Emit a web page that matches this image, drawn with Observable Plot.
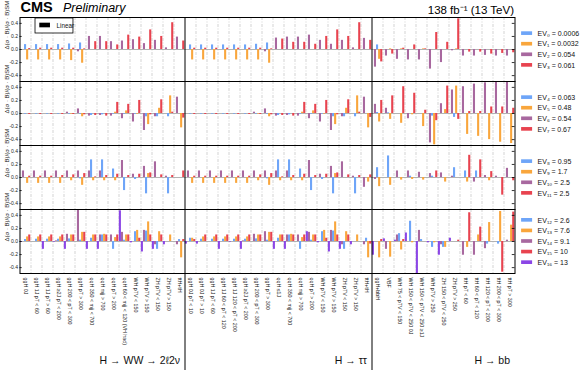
<!DOCTYPE html>
<html><head><meta charset="utf-8">
<script src="https://cdn.jsdelivr.net/npm/d3@7"></script>
<script src="https://cdn.jsdelivr.net/npm/@observablehq/plot@0.6"></script>
<style>body{margin:0;background:#fff} #chart svg{display:block}</style>
</head><body><div id="chart"></div>
<script>
// ---------- categories ----------
const hwwCats = ["ggH 0J","ggH 1J pT < 60","ggH 1J pT > 60","ggH ≥2J pT < 200","ggH 200 < pT < 300","ggH pT > 300","qqH 350 < mjj < 700","qqH mjj > 700","qqH pT > 200","qqH 60 < mjj < 120 (VH had)","WH pTV < 150","WH pTV > 150","ZH pTV < 150","ZH pTV > 150","ttH+tH"];
const ttCats = ["ggH 0J pT < 10","ggH 0J pT > 10","ggH 1J pT < 60","ggH 1J 60 < pT < 120","ggH 1J 120 < pT < 200","ggH ≥2J pT < 200","ggH 200 < pT < 300","ggH pT > 300","qqH ≤1J","qqH 350 < mjj < 700","qqH mjj > 700","qqH pT > 200","WH pTV < 150","WH pTV > 150","ZH pTV < 150","ZH pTV > 150","ttH+tH"];
const bbCats = ["ggH+bbH","VBF","WH 75 < pTV < 150","WH 150 < pTV < 250 0J","WH 150 < pTV < 250 ≥1J","WH pTV > 250","ZH 150 < pTV < 250","ZH pTV > 250","ttH pT < 60","ttH 60 < pT < 120","ttH 120 < pT < 200","ttH 200 < pT < 300","ttH pT > 300"];
const sectionNames = ["H → WW → 2ℓ2ν","H → ττ","H → bb"];
const sectionSizes = [hwwCats.length, ttCats.length, bbCats.length];
const categories = [...hwwCats, ...ttCats, ...bbCats];

// ---------- eigenvector values (HWW | tautau | bb) ----------
const ev0 = [0.075,0.075,0.075,0.075,0.085,0.1,0,0,0,0,0,0,0,0,0, 0.07,0.07,0.07,0.07,0.07,0.07,0.08,0.1,0,0,0,0,0,0,0,0,0, 0.07,0,0,0,0,0,0,0,0,0,0,0,0];
const ev1 = [-0.16,-0.16,-0.16,-0.16,-0.17,-0.21,0,0,0,0,0,0,0,0,0, -0.16,-0.16,-0.16,-0.16,-0.16,-0.16,-0.16,-0.21,0,0,0,0,0,0,0,0,0, -0.15,0.01,0.01,0,0.01,0,0,0.01,0,0,0,0,0];
const ev2 = [0,0,0,0,0,-0.035,0.2,0.2,0.12,0.13,0.15,0.09,0.14,0.025,0.19, 0,0,0,0,0,0,0,-0.035,0.175,0.19,0.19,0.22,0.14,0.08,0.14,0.025,0.17, -0.27,-0.1,-0.15,-0.16,-0.16,-0.3,-0.2,-0.02,-0.1,-0.1,-0.09,-0.1,-0.1];
const ev3 = [0.015,0.02,0.02,0.02,0.02,0.01,0.12,0.12,0.07,0.22,0.19,0.3,0.2,0.41,0.13, 0.02,0.02,0.02,0.02,0.02,0.02,0.02,0.01,0.16,0.11,0.11,0.08,0.2,0.3,0.2,0.41,0.14, -0.19,-0.07,0.02,0.07,0.01,0.26,0.11,0.47,-0.04,-0.04,-0.07,-0.06,-0.05];
const ev4 = [-0.01,-0.01,-0.01,-0.01,-0.01,-0.01,-0.03,-0.02,-0.01,-0.01,-0.01,-0.05,-0.05,-0.05,0, -0.01,-0.01,-0.01,-0.01,-0.01,-0.01,-0.01,-0.01,-0.03,-0.02,-0.01,-0.01,-0.01,-0.05,-0.05,-0.05,0, 0.015,0.01,0,0,0,-0.04,0,-0.06,0,0,0,0,0];
const ev5 = [0,0,0,0,-0.01,-0.05,0,0,0.02,0.04,-0.01,-0.17,0.08,0.27,-0.22, 0,0,0,0,0,0,-0.01,-0.05,0,0,0.02,0.04,-0.01,-0.17,0.08,0.27,-0.22, -0.13,-0.09,-0.15,-0.02,-0.2,-0.48,0.06,0.42,-0.32,-0.35,-0.4,-0.44,-0.46];
const ev6 = [0,0,0,0,0.02,0.07,-0.04,-0.03,-0.04,-0.08,-0.13,-0.26,-0.05,0,0.25, 0,0,0,0,0,0,0.02,0.07,-0.04,-0.03,-0.04,-0.08,-0.13,-0.26,-0.05,0,0.25, 0.14,0.08,0,-0.08,0,-0.45,0.15,0.36,0.41,0.45,0.47,0.48,0.48];
const ev7 = [-0.015,-0.015,-0.015,-0.015,-0.015,-0.02,-0.03,-0.04,0.17,0.14,0.2,-0.02,0.21,0.02,-0.07, -0.015,-0.015,-0.015,-0.015,-0.015,-0.015,-0.015,-0.02,-0.03,-0.04,0.17,0.14,0.2,-0.02,0.21,0.02,-0.06, 0.2,0.27,0.41,0.31,0.05,-0.11,0.42,-0.09,0.03,0.03,0.1,0.1,0.08];
const ev8 = [0,0,0,0,0,-0.02,0.27,0.27,0.13,-0.2,-0.03,-0.25,0,-0.25,0, 0,0,0,0,0,0,0,-0.02,0.27,0.27,0.13,-0.2,-0.03,-0.25,0,-0.25,0, 0.15,0.33,0,0.02,0,0.02,0,0.15,0.1,0.1,0,0,0];
const ev9 = [-0.09,-0.09,-0.09,-0.09,-0.05,-0.12,-0.05,-0.05,-0.05,0,0,0.06,0,0,0, -0.09,-0.09,-0.09,-0.09,-0.09,-0.09,-0.05,-0.12,-0.05,-0.05,-0.05,0,0,0.06,0,0,-0.07, -0.14,-0.12,-0.04,-0.03,-0.04,0,-0.07,0,-0.07,0,-0.05,0,0];
const ev10 = [0.1,0.1,0.1,0.1,0.1,0.1,0.1,0.1,0,0.26,0.05,0.17,0.24,0.02,0, 0.1,0.1,0.1,0.1,0.1,0.1,0.1,0.1,0.1,0.1,0,0.26,0.05,0.17,0.24,0.02,-0.15, -0.03,0,0.1,0.1,0.08,0.06,0.07,0.02,0,-0.07,0.03,0.02,0.14];
const ev11 = [0.02,0.02,0.02,0.03,0.04,0.06,0.01,0.03,0.05,0.03,0.05,0.07,0.04,0.03,0.1, 0.02,0.02,0.02,0.02,0.02,0.02,0.04,0.06,0.01,0.03,0.05,0.03,0.05,0.07,0.04,0.03,0.04, 0,0,0,0,0,0.1,0,0,0.34,0.27,0.09,-0.27,-0.05];
const ev12 = [0.03,0.035,0.035,0.035,0.04,0.02,0.05,0.1,-0.12,0.02,0.15,0.16,-0.12,0,0.03, 0.05,0.035,0.035,0.035,0.035,0.035,0.04,0.02,0.05,0.1,-0.12,0.02,0.15,0.16,-0.12,0,0.05, 0,0,0.12,0.31,0.03,-0.09,-0.09,0,0,0,-0.04,-0.04,0];
const ev13 = [0.07,0.07,0.07,0.07,0.1,0.14,0.1,0.11,0.06,0.1,0.17,0.3,0.15,0.1,-0.25, 0.05,0.07,0.07,0.07,0.07,0.07,0.1,0.14,0.1,0.11,0.06,0.1,0.17,0.3,0.15,0.1,-0.25, -0.25,-0.24,-0.13,-0.02,0,-0.02,-0.09,0,-0.09,0.1,0.29,0.46,0.25];
const ev14 = [0,0,0,0.01,0.11,0.48,0,0.1,0.1,0.14,0,0.17,-0.05,0,-0.05, 0,0,0,0,0,0.01,0.11,0.15,0,0.1,0.1,0.14,0,0.17,-0.05,0,-0.05, 0,-0.12,0.1,0,0.17,0,-0.05,0,-0.21,-0.21,-0.11,0,0.02];
const ev15 = [0.1,0.1,0.1,0.1,0.1,0.14,0.1,0.1,0.1,0.1,0.05,0.1,0.1,0,0.03, 0.03,0.1,0.1,0.1,0.1,0.1,0.1,0.14,0.1,0.1,0.1,0.1,0.05,0.1,0.1,0,-0.04, 0.03,0,0.03,0,0,0,0,0.02,0.44,0.22,0,-0.47,0.45];
const ev16 = [-0.01,0,-0.12,-0.01,-0.12,0,-0.12,-0.12,0,0.47,-0.02,-0.16,-0.12,-0.05,0, -0.04,-0.04,0,-0.12,-0.01,-0.12,0,0,-0.12,-0.12,0,0.15,-0.02,-0.16,-0.12,-0.05,0, -0.21,0.04,0.02,0.13,-0.49,-0.02,-0.21,0.05,0,0,0,0,0];
const eigenvalues = ["0.0006","0.0032","0.054","0.061","0.063","0.48","0.54","0.67","0.95","1.7","2.5","2.5","2.6","7.6","9.1","10","13"];
const yTicks = [-0.4,-0.2,0,0.2,0.4];

// ---------- layout / style ----------
const evValues = [ev0,ev1,ev2,ev3,ev4,ev5,ev6,ev7,ev8,ev9,ev10,ev11,ev12,ev13,ev14,ev15,ev16];
const palette = ["#6ea5f8","#f9a63c","#a8689f","#e8434f","#8b45e6"];
const rowsEV = [[0,1,2,3],[4,5,6,7],[8,9,10,11],[12,13,14,15,16]];
const slotOrder = [[2,0,1,3],[6,4,5,7],[10,8,9,11],[16,14,12,13,15]];
const bw = 0.19;
const sub = n => String(n).split("").map(c => "₀₁₂₃₄₅₆₇₈₉"[+c]).join("");
const N = categories.length;
const ylo = -0.49, yhi = 0.49;

const bars = [];
const legendRows = [];
rowsEV.forEach((evs, r) => {
  const n = evs.length;
  evs.forEach((e, k) => {
    const slot = slotOrder[r].indexOf(e);
    evValues[e].forEach((v, i) => {
      const x1 = i + 0.98 - (n - slot) * bw;
      bars.push({row: r, x1, x2: x1 + bw, v, color: palette[k]});
    });
    const yc = ((n - 1) / 2 - k) * 0.162;
    legendRows.push({row: r, y: yc, color: palette[k], label: `EV${sub(e)} = ${eigenvalues[e]}`});
  });
});

const bounds = d3.cumsum(sectionSizes);
const dividers = Array.from(bounds).slice(0, -1);
const grid = d3.range(1, N).filter(i => !dividers.includes(i));
const catLabels = categories.map((c, i) => ({row: 3, x: i + 0.5, c}));
const secLabels = sectionNames.map((s, j) => ({row: 3, x: bounds[j], s}));
const divExt = dividers.map(x => ({row: 3, x}));
const topRow = [{row: 0}];

const font = "'Liberation Sans', Arial, Helvetica, sans-serif";

const chart = Plot.plot({
  width: 580, height: 373,
  marginTop: 17, marginBottom: 100, marginLeft: 19.5, marginRight: 65.5,
  style: {fontFamily: font, background: "#fff"},
  x: {domain: [0, N], axis: null},
  y: {domain: [ylo, yhi], axis: null},
  fy: {domain: [0,1,2,3], padding: 0, axis: null},
  color: {type: "identity"},
  marks: [
    Plot.ruleX(grid, {stroke: "#c8c8c8", strokeWidth: 0.8, strokeDasharray: "3,1.5,1,1.5"}),
    Plot.ruleY([0], {stroke: "#a0a0a0", strokeWidth: 0.8}),
    Plot.rect(bars, {x1: "x1", x2: "x2", y1: 0, y2: "v", fy: "row", fill: "color"}),
    Plot.ruleX(dividers, {stroke: "#000", strokeWidth: 1}),
    Plot.ruleX(divExt, {x: "x", y1: ylo, y2: ylo - 97 / 65.3, fy: "row", stroke: "#000", strokeWidth: 1}),
    Plot.frame({stroke: "#000", strokeWidth: 1}),
    Plot.ruleY(yTicks, {x1: N - 0.25, x2: N, stroke: "#000", strokeWidth: 0.8}),
    Plot.ruleY(yTicks, {x1: 0, x2: 0.2, stroke: "#000", strokeWidth: 0.8}),
    Plot.text(yTicks, {x: 0, y: d => d, text: d => d.toFixed(1), textAnchor: "end", dx: -2, fontSize: 5, fill: "#222"}),
    Plot.text(["Δ(σ · B)/(σ · B)SM"], {frameAnchor: "left", rotate: -90, dx: -12.5, fontSize: 6, fill: "#222"}),
    Plot.text(catLabels, {x: "x", y: ylo, fy: "row", text: "c", rotate: 90, textAnchor: "start", lineAnchor: "middle", dy: 4, fontSize: 5.3, fill: "#222"}),
    Plot.text(secLabels, {x: "x", frameAnchor: "bottom", fy: "row", text: "s", textAnchor: "end", lineAnchor: "bottom", dx: -5, dy: 90.5, fontSize: 10.5, fill: "#111"}),
    Plot.rect(legendRows, {x1: N + 0.6, x2: N + 1.6, y1: d => d.y - 0.028, y2: d => d.y + 0.028, fy: "row", fill: "color"}),
    Plot.text(legendRows, {x: N + 2.05, y: "y", fy: "row", text: "label", textAnchor: "start", fontSize: 7, fill: "#111"}),
    Plot.rect(topRow, {x1: 1.41, x2: 4.86, y1: 0.245, y2: 0.475, fy: "row", fill: "#fff", stroke: "#000", strokeWidth: 0.8}),
    Plot.rect(topRow, {x1: 1.8, x2: 2.77, y1: 0.332, y2: 0.403, fy: "row", fill: "#000"}),
    Plot.text(topRow, {x: 3.32, y: 0.365, fy: "row", text: () => "Linear", textAnchor: "start", fontSize: 6.3, fill: "#111"}),
    Plot.text(topRow, {frameAnchor: "top-left", fy: "row", text: () => "CMS", textAnchor: "start", lineAnchor: "bottom", dx: 0.5, dy: -5.3, fontSize: 14.5, fontWeight: "bold", fill: "#000"}),
    Plot.text(topRow, {frameAnchor: "top-left", fy: "row", text: () => "Preliminary", textAnchor: "start", lineAnchor: "bottom", dx: 43, dy: -5.3, fontSize: 12.5, fontStyle: "italic", fill: "#000"}),
    Plot.text(topRow, {frameAnchor: "top-right", fy: "row", text: () => "138 fb⁻¹ (13 TeV)", textAnchor: "end", lineAnchor: "bottom", dx: -1, dy: -4, fontSize: 11.5, fill: "#000"})
  ]
});
document.getElementById("chart").appendChild(chart);
</script>
</body></html>
